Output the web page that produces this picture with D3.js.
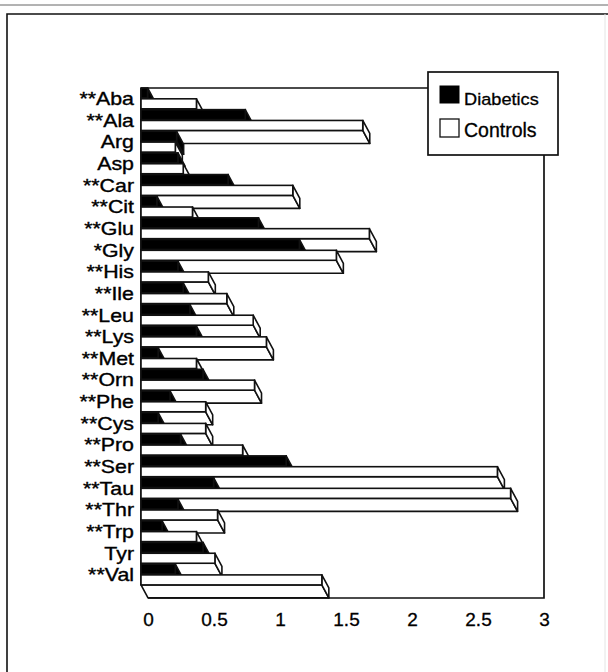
<!DOCTYPE html>
<html>
<head>
<meta charset="utf-8">
<script src="https://cdn.jsdelivr.net/npm/d3@7.9.0/dist/d3.min.js"></script>
<style>
  html, body { margin: 0; padding: 0; background: #fff; }
  svg { display: block; }
</style>
</head>
<body>
<div id="chart"></div>
<script>
// ---- data ----
const categories = ['**Aba', '**Ala', 'Arg', 'Asp', '**Car', '**Cit', '**Glu', '*Gly', '**His', '**Ile',
    '**Leu', '**Lys', '**Met', '**Orn', '**Phe', '**Cys', '**Pro', '**Ser', '**Tau', '**Thr',
    '**Trp', 'Tyr', '**Val'];
const diabetics = [0.05, 0.79, 0.27, 0.28, 0.66, 0.12, 0.89, 1.20, 0.28, 0.32,
    0.37, 0.42, 0.13, 0.47, 0.22, 0.13, 0.30, 1.10, 0.55, 0.28,
    0.16, 0.47, 0.26];
const controls = [0.42, 1.68, 0.26, 0.32, 1.15, 0.39, 1.73, 1.48, 0.51, 0.65,
    0.85, 0.95, 0.42, 0.86, 0.49, 0.49, 0.77, 2.70, 2.80, 0.58,
    0.42, 0.56, 1.37];
const tickValues = [0, 0.5, 1, 1.5, 2, 2.5, 3];
const seriesNames = ['Diabetics', 'Controls'];

// ---- layout ----
const W = 608, H = 672;
const FONT = '"Liberation Sans", Arial, Helvetica, sans-serif';
const DX = 7, DY = 13;          // 3-D depth offset
const BAR_H = 10;               // front face height
const INK = '#111';

const svg = d3.select('#chart').append('svg')
    .attr('width', W).attr('height', H)
    .attr('viewBox', `0 0 ${W} ${H}`);

// outer page border (scan frame)
svg.append('line').attr('x1', 0).attr('x2', W).attr('y1', 5).attr('y2', 5)
    .attr('stroke', '#666').attr('stroke-width', 1);
svg.append('path').attr('d', `M7,${H} V14 H${W}`)
    .attr('fill', 'none').attr('stroke', INK).attr('stroke-width', 1.6);
svg.append('line').attr('x1', 605).attr('x2', 605).attr('y1', 14).attr('y2', H)
    .attr('stroke', '#e4e4e4').attr('stroke-width', 1);

// scales: front plane and back plane (shifted by depth)
const x = d3.scaleLinear().domain([0, 3]).range([141, 537]);
const xBack = d3.scaleLinear().domain([0, 3]).range([141 + DX, 537 + DX]);
const y = d3.scaleBand().domain(categories).range([88, 88 + 23 * 21.64]).padding(0);
const half = y.bandwidth() / 2;

// plot frame
svg.append('path')
    .attr('d', `M${x(0)},${y.range()[0]} H430 M${xBack(3)},150 V598 H${xBack(0)} M${x(0)},88 V${88 + 22 * 21.64 + half + BAR_H}`)
    .attr('fill', 'none').attr('stroke', INK).attr('stroke-width', 1.7);

// 3-D bar as three faces
function bar(g, v, top, fill) {
    const x0 = x(0), x1 = x(v), y0 = top, y1 = top + BAR_H;
    const p = pts => 'M' + pts.map(d => d.join(',')).join('L') + 'Z';
    const sw = 1.6;
    g.append('path')
        .attr('d', p([[x0, y1], [x1, y1], [x1 + DX, y1 + DY], [x0 + DX, y1 + DY]]))
        .attr('fill', fill).attr('stroke', INK).attr('stroke-width', sw).attr('stroke-linejoin', 'round');
    g.append('path')
        .attr('d', p([[x1, y0], [x1 + DX, y0 + DY], [x1 + DX, y1 + DY], [x1, y1]]))
        .attr('fill', fill).attr('stroke', INK).attr('stroke-width', sw).attr('stroke-linejoin', 'round');
    g.append('rect')
        .attr('x', x0).attr('y', y0).attr('width', x1 - x0).attr('height', BAR_H)
        .attr('fill', fill).attr('stroke', INK).attr('stroke-width', sw);
}

const bars = svg.append('g');
categories.forEach((c, i) => {
    bar(bars, diabetics[i], y(c), '#000');
    bar(bars, controls[i], y(c) + half, '#fff');
});

// category labels
svg.append('g')
    .selectAll('text')
    .data(categories)
    .join('text')
    .attr('transform', d => `translate(134,${y(d) + half}) scale(1.22,1)`)
    .attr('text-anchor', 'end')
    .attr('dy', '0.36em')
    .attr('font-family', FONT)
    .attr('font-size', '17.5px')
    .attr('fill', '#000')
    .attr('stroke', '#000')
    .attr('stroke-width', 0.35)
    .text(d => d);

// x axis labels on the back plane
const axis = d3.axisBottom(xBack)
    .tickValues(tickValues)
    .tickSize(0)
    .tickPadding(0)
    .tickFormat(d => String(d));
const ax = svg.append('g').attr('transform', 'translate(0,612)').call(axis);
ax.select('.domain').remove();
ax.selectAll('text')
    .attr('font-family', FONT)
    .attr('font-size', '19px')
    .attr('fill', '#000')
    .attr('stroke', '#000')
    .attr('stroke-width', 0.3)
    .attr('dy', '0.72em');

// legend
const lg = svg.append('g');
lg.append('rect').attr('x', 428).attr('y', 72).attr('width', 130).attr('height', 83)
    .attr('fill', '#fff').attr('stroke', INK).attr('stroke-width', 1.7);
lg.append('rect').attr('x', 440).attr('y', 86).attr('width', 19).attr('height', 17)
    .attr('fill', '#000').attr('stroke', '#000').attr('stroke-width', 1);
lg.append('rect').attr('x', 440).attr('y', 119).attr('width', 19).attr('height', 18)
    .attr('fill', '#fff').attr('stroke', INK).attr('stroke-width', 1.3);
lg.append('text').attr('transform', 'translate(464,105) scale(1.07,1)')
    .attr('font-family', FONT).attr('font-size', '17px').attr('fill', '#000')
    .attr('stroke', '#000').attr('stroke-width', 0.3)
    .text(seriesNames[0]);
lg.append('text').attr('x', 464).attr('y', 137)
    .attr('font-family', FONT).attr('font-size', '19.5px').attr('fill', '#000')
    .attr('stroke', '#000').attr('stroke-width', 0.3)
    .text(seriesNames[1]);
</script>
</body>
</html>
